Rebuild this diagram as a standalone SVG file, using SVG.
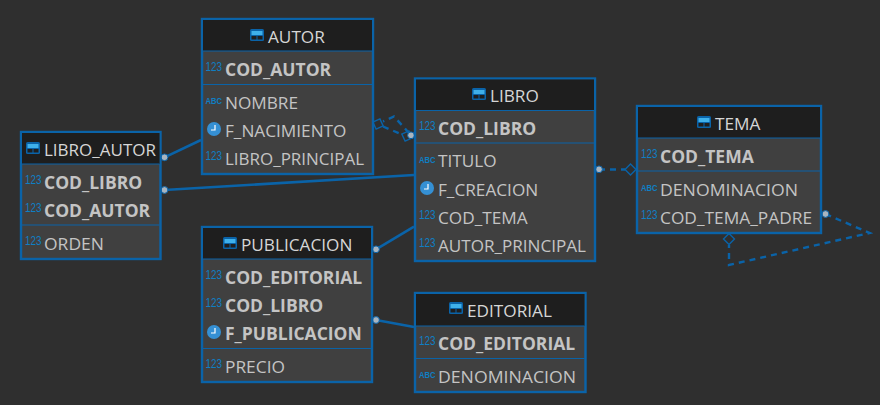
<svg xmlns="http://www.w3.org/2000/svg" width="880" height="405" viewBox="0 0 880 405">
<style>
text{font-family:"Open Sans","Noto Sans","Liberation Sans",sans-serif;fill:#c4c4c4;font-size:17.2px}
.b{font-weight:700;font-size:17.5px}
.h{fill:#d6d6d6}
.box{fill:#404040;stroke:#0a63a8;stroke-width:2.4}
.head{fill:#1e1e1e}
.sep{stroke:#0a63a8;stroke-width:1.2;fill:none}
.t{font-family:"Liberation Sans",sans-serif;font-size:12px;fill:#0f7fc4}
.a{font-family:"Liberation Sans",sans-serif;font-size:9.5px;font-weight:700;fill:#0f7fc4}
.line{stroke:#0a63a8;stroke-width:2.6;fill:none}
.dash{stroke:#0a63a8;stroke-width:2.4;fill:none;stroke-dasharray:6 5}
.dia{stroke:#0a63a8;stroke-width:1.4;fill:none}
.dot{fill:#a9b4bf;stroke:#0a63a8;stroke-width:1}
</style>
<defs>
<g id="tb"><rect x="0" y="0" width="14" height="12" rx="1.5" fill="#0a63a8"/><rect x="1.500" y="2" width="11" height="4" fill="#3fb0ea"/><rect x="1.500" y="7" width="5" height="3.500" fill="#1e1e1e"/><rect x="7.500" y="7" width="5" height="3.500" fill="#1e1e1e"/></g>
<g id="clk"><circle cx="0" cy="0" r="7" fill="#3590d4"/><path d="M1 -4V1H-3" stroke="#fff" stroke-width="1.2" fill="none"/></g>
</defs>
<rect width="880" height="405" fill="#2f2f2f"/>
<g id="connectors">
<path class="line" d="M164.500 157.300L201 140"/>
<path class="line" d="M164.500 190L414 175"/>
<path class="line" d="M376 249.300L414 226.700"/>
<path class="line" d="M376 320L414 327"/>
<path class="dash" d="M409 133L394 116.500L383 121.500"/>
<path class="dash" d="M383 126.500L402 134.500"/>
<path class="dash" d="M599 169.500H625"/>
<path class="dash" d="M825.500 214L869.500 233L729 265V245"/>
<path class="dia" transform="rotate(20 378 124)" d="M378 118.500L383.500 124L378 129.500L372.500 124Z"/>
<path class="dia" transform="rotate(20 407 136)" d="M407 130.500L412.500 136L407 141.500L401.500 136Z"/>
<path class="dia" d="M630.500 164L636 169.500L630.500 175L625 169.500Z"/>
<path class="dia" d="M729 233.500L734.500 239L729 244.500L723.500 239Z"/>
<circle class="dot" cx="411" cy="135.300" r="3.400"/>
<circle class="dot" cx="599" cy="169.300" r="3.400"/>
<circle class="dot" cx="825.500" cy="214" r="3.400"/>
<circle class="dot" cx="164.500" cy="157.300" r="3.400"/>
<circle class="dot" cx="164.500" cy="190" r="3.400"/>
<circle class="dot" cx="376" cy="249.300" r="3.400"/>
<circle class="dot" cx="376" cy="320" r="3.400"/>
</g>
<g id="autor">
<rect class="box" x="202" y="19" width="171" height="155"/>
<rect class="head" x="203" y="20" width="169" height="31"/>
<path class="sep" d="M203 51H372M203 84.500H372"/>
<use href="#tb" x="250" y="29"/>
<text class="h" x="268" y="43">AUTOR</text>
<text class="t" x="205.500" y="71" textLength="16.500" lengthAdjust="spacingAndGlyphs">123</text>
<text class="b" x="225" y="76">COD_AUTOR</text>
<text class="a" x="205.500" y="104" textLength="16.500" lengthAdjust="spacingAndGlyphs">ABC</text>
<text x="225" y="109">NOMBRE</text>
<use href="#clk" x="214" y="129"/>
<text x="225" y="137">F_NACIMIENTO</text>
<text class="t" x="205.500" y="160" textLength="16.500" lengthAdjust="spacingAndGlyphs">123</text>
<text x="225" y="165" textLength="139" lengthAdjust="spacingAndGlyphs">LIBRO_PRINCIPAL</text>
</g>
<g id="libro">
<rect class="box" x="415" y="78.500" width="180" height="182.500"/>
<rect class="head" x="416" y="79.500" width="178" height="31"/>
<path class="sep" d="M416 110.500H594M416 143H594"/>
<use href="#tb" x="472" y="88"/>
<text class="h" x="490" y="102">LIBRO</text>
<text class="t" x="419" y="130" textLength="16.500" lengthAdjust="spacingAndGlyphs">123</text>
<text class="b" x="438" y="135">COD_LIBRO</text>
<text class="a" x="419" y="163" textLength="16.500" lengthAdjust="spacingAndGlyphs">ABC</text>
<text x="438" y="167">TITULO</text>
<use href="#clk" x="427" y="188"/>
<text x="438" y="196">F_CREACION</text>
<text class="t" x="419" y="219" textLength="16.500" lengthAdjust="spacingAndGlyphs">123</text>
<text x="438" y="224">COD_TEMA</text>
<text class="t" x="419" y="247" textLength="16.500" lengthAdjust="spacingAndGlyphs">123</text>
<text x="438" y="252" textLength="148" lengthAdjust="spacingAndGlyphs">AUTOR_PRINCIPAL</text>
</g>
<g id="tema">
<rect class="box" x="637" y="106" width="184" height="127"/>
<rect class="head" x="638" y="107" width="182" height="31"/>
<path class="sep" d="M638 138H820M638 171H820"/>
<use href="#tb" x="697" y="116"/>
<text class="h" x="715" y="130">TEMA</text>
<text class="t" x="641" y="158" textLength="16.500" lengthAdjust="spacingAndGlyphs">123</text>
<text class="b" x="660" y="163">COD_TEMA</text>
<text class="a" x="641" y="191" textLength="16.500" lengthAdjust="spacingAndGlyphs">ABC</text>
<text x="660" y="196" textLength="138" lengthAdjust="spacingAndGlyphs">DENOMINACION</text>
<text class="t" x="641" y="219" textLength="16.500" lengthAdjust="spacingAndGlyphs">123</text>
<text x="660" y="224" textLength="152" lengthAdjust="spacingAndGlyphs">COD_TEMA_PADRE</text>
</g>
<g id="libro_autor">
<rect class="box" x="21" y="132" width="139.500" height="127"/>
<rect class="head" x="22" y="133" width="137.500" height="31"/>
<path class="sep" d="M22 164H159.500M22 225H159.500"/>
<use href="#tb" x="26" y="142"/>
<text class="h" x="44" y="156" textLength="112" lengthAdjust="spacingAndGlyphs">LIBRO_AUTOR</text>
<text class="t" x="25" y="184" textLength="16.500" lengthAdjust="spacingAndGlyphs">123</text>
<text class="b" x="44" y="189">COD_LIBRO</text>
<text class="t" x="25" y="212" textLength="16.500" lengthAdjust="spacingAndGlyphs">123</text>
<text class="b" x="44" y="217">COD_AUTOR</text>
<text class="t" x="25" y="245" textLength="16.500" lengthAdjust="spacingAndGlyphs">123</text>
<text x="44" y="250" textLength="60" lengthAdjust="spacingAndGlyphs">ORDEN</text>
</g>
<g id="publicacion">
<rect class="box" x="202" y="227" width="170" height="155"/>
<rect class="head" x="203" y="228" width="168" height="31"/>
<path class="sep" d="M203 259H371M203 348.500H371"/>
<use href="#tb" x="223" y="237"/>
<text class="h" x="241" y="251">PUBLICACION</text>
<text class="t" x="205.500" y="279" textLength="16.500" lengthAdjust="spacingAndGlyphs">123</text>
<text class="b" x="225" y="284">COD_EDITORIAL</text>
<text class="t" x="205.500" y="307" textLength="16.500" lengthAdjust="spacingAndGlyphs">123</text>
<text class="b" x="225" y="312">COD_LIBRO</text>
<use href="#clk" x="214" y="332"/>
<text class="b" x="225" y="340">F_PUBLICACION</text>
<text class="t" x="205.500" y="368" textLength="16.500" lengthAdjust="spacingAndGlyphs">123</text>
<text x="225" y="373" textLength="60" lengthAdjust="spacingAndGlyphs">PRECIO</text>
</g>
<g id="editorial">
<rect class="box" x="415" y="293" width="170.500" height="99"/>
<rect class="head" x="416" y="294" width="168.500" height="32"/>
<path class="sep" d="M416 326H584.500M416 358.500H584.500"/>
<use href="#tb" x="449" y="302"/>
<text class="h" x="467" y="317">EDITORIAL</text>
<text class="t" x="419" y="345" textLength="16.500" lengthAdjust="spacingAndGlyphs">123</text>
<text class="b" x="438" y="350">COD_EDITORIAL</text>
<text class="a" x="419" y="378" textLength="16.500" lengthAdjust="spacingAndGlyphs">ABC</text>
<text x="438" y="383" textLength="138" lengthAdjust="spacingAndGlyphs">DENOMINACION</text>
</g>
</svg>
